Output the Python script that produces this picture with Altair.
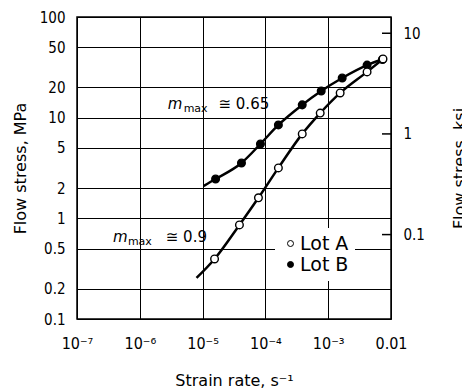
import altair as alt
import pandas as pd

# ---- data ----
rate_a = [1.55e-5, 3.86e-5, 7.75e-5, 1.61e-4, 3.86e-4, 7.46e-4, 1.55e-3, 4.16e-3, 7.46e-3]
stress_a = [0.395, 0.86, 1.6, 3.17, 6.9, 11.1, 17.6, 28.5, 38.3]
rate_b = [1.61e-5, 4.16e-5, 8.34e-5, 1.61e-4, 3.86e-4, 7.74e-4, 1.67e-3, 4.16e-3, 7.3e-3]
stress_b = [2.46, 3.55, 5.48, 8.47, 13.4, 18.4, 24.8, 33.3, 37.8]
curve_start_a = [8.0e-6, 0.256]
curve_start_b = [1.04e-5, 2.1]

x_ticks = [1e-7, 1e-6, 1e-5, 1e-4, 1e-3, 1e-2]
x_labels = ["10\u207b\u2077", "10\u207b\u2076", "10\u207b\u2075", "10\u207b\u2074", "10\u207b\u00b3", "0.01"]
y_ticks = [0.1, 0.2, 0.5, 1, 2, 5, 10, 20, 50, 100]
ksi_ticks = [0.1, 1, 10]
MPA_TO_KSI = 0.1450377

ann_m = ["m", "m"]
ann_m_rate = [2.78e-6, 3.73e-7]
ann_m_stress = [12.2, 0.583]
ann_sub_rate = [4.99e-6, 6.46e-7]
ann_sub_stress = [11.4, 0.545]
ann_val = ["\u2245 0.65", "\u2245 0.9"]
ann_val_rate = [1.79e-5, 2.59e-6]
ann_val_stress = [12.2, 0.583]

# ---- tables ----
points = pd.DataFrame({
    "rate": rate_b + rate_a,
    "stress": stress_b + stress_a,
    "lot": ["Lot B"] * len(rate_b) + ["Lot A"] * len(rate_a),
})
curves = pd.DataFrame({
    "rate": [curve_start_a[0]] + rate_a + [curve_start_b[0]] + rate_b,
    "stress": [curve_start_a[1]] + stress_a + [curve_start_b[1]] + stress_b,
    "lot": ["Lot A"] * (len(rate_a) + 1) + ["Lot B"] * (len(rate_b) + 1),
})
ann_m_df = pd.DataFrame({"rate": ann_m_rate, "stress": ann_m_stress, "t": ann_m})
ann_sub_df = pd.DataFrame({"rate": ann_sub_rate, "stress": ann_sub_stress, "t": ["max", "max"]})
ann_val_df = pd.DataFrame({"rate": ann_val_rate, "stress": ann_val_stress, "t": ann_val})
ksi_df = pd.DataFrame({"ksi": ksi_ticks})

W, H = 314, 302
NARROW = "Liberation Sans Narrow, DejaVu Sans Condensed, sans-serif"
SANS = "DejaVu Sans"

label_expr = "[" + ",".join("'" + s + "'" for s in x_labels) + "][round(log(datum.value)/LN10)+7]"

x_enc = alt.X(
    "rate:Q",
    scale=alt.Scale(type="log", domain=[1e-7, 1e-2]),
    axis=alt.Axis(
        values=x_ticks, labelExpr=label_expr, grid=True, gridColor="black",
        gridOpacity=1, gridWidth=1, ticks=False, domain=False,
        labelFont=NARROW, labelFontSize=16, labelColor="black", labelPadding=16,
        labelFlush=False,
        title="Strain rate, s\u207b\u00b9", titleFont=SANS, titleFontSize=16,
        titleFontWeight="normal", titleColor="black",
        titleBaseline="alphabetic", titleY=66,
    ),
)
y_enc = alt.Y(
    "stress:Q",
    scale=alt.Scale(type="log", domain=[0.1, 100]),
    axis=alt.Axis(
        values=y_ticks, format="~g", grid=True, gridColor="black", gridOpacity=1,
        gridWidth=1, ticks=False, domain=False,
        labelFont=NARROW, labelFontSize=15, labelColor="black", labelPadding=12,
        labelFlush=False,
        title="Flow stress, MPa", titleFont=SANS, titleFontSize=16,
        titleFontWeight="normal", titleColor="black",
        titleBaseline="alphabetic", titleX=-52, titleAngle=270,
    ),
)

lines = alt.Chart(curves).mark_line(
    color="black", strokeWidth=2.5, interpolate="monotone"
).encode(x=x_enc, y=y_enc, detail="lot:N")

pts = alt.Chart(points).mark_point(
    shape="circle", filled=True, size=58, stroke="black", strokeWidth=1.4, opacity=1
).encode(
    x=x_enc, y=y_enc,
    fill=alt.Fill(
        "lot:N",
        scale=alt.Scale(domain=["Lot A", "Lot B"], range=["white", "black"]),
        legend=alt.Legend(
            title=None, orient="none", legendX=198, legendY=211,
            fillColor="white", padding=6, symbolType="circle", symbolSize=36,
            symbolStrokeColor="black", symbolStrokeWidth=1,
            labelFont=SANS, labelFontSize=19, labelColor="black",
            labelOffset=0, rowPadding=1,
        ),
    ),
    order=alt.Order("lot:N", sort="descending"),
)

t_m = alt.Chart(ann_m_df).mark_text(
    align="left", baseline="alphabetic", font=SANS, fontSize=15,
    fontStyle="italic", color="black"
).encode(x=x_enc, y=y_enc, text="t:N")
t_sub = alt.Chart(ann_sub_df).mark_text(
    align="left", baseline="alphabetic", font=SANS, fontSize=11, color="black"
).encode(x=x_enc, y=y_enc, text="t:N")
t_val = alt.Chart(ann_val_df).mark_text(
    align="left", baseline="alphabetic", font=SANS, fontSize=15, color="black"
).encode(x=x_enc, y=y_enc, text="t:N")

left = alt.layer(lines, pts, t_m, t_sub, t_val)

right = alt.Chart(ksi_df).mark_rule(color="black", strokeWidth=1.5).encode(
    y=alt.Y(
        "ksi:Q",
        scale=alt.Scale(type="log", domain=[0.1 * MPA_TO_KSI, 100 * MPA_TO_KSI]),
        axis=alt.Axis(
            orient="right", values=ksi_ticks, format="~g", grid=False,
            ticks=False, domain=False,
            labelFont=NARROW, labelFontSize=15, labelColor="black",
            labelPadding=12, labelFlush=False,
            title="Flow stress, ksi", titleFont=SANS, titleFontSize=16,
            titleFontWeight="normal", titleColor="black",
            titleBaseline="alphabetic", titleX=73, titleAngle=270,
        ),
    ),
    x=alt.value(W - 9),
    x2=alt.value(W),
)

chart = alt.layer(left, right).resolve_scale(y="independent").properties(
    width=W, height=H,
    autosize=alt.AutoSizeParams(type="none"),
    padding={"left": 77, "top": 17, "right": 71, "bottom": 72},
    background="white",
).configure_view(stroke="black", strokeWidth=1.5)

chart.save("out.html", embed_options={"renderer": "svg", "actions": False})
